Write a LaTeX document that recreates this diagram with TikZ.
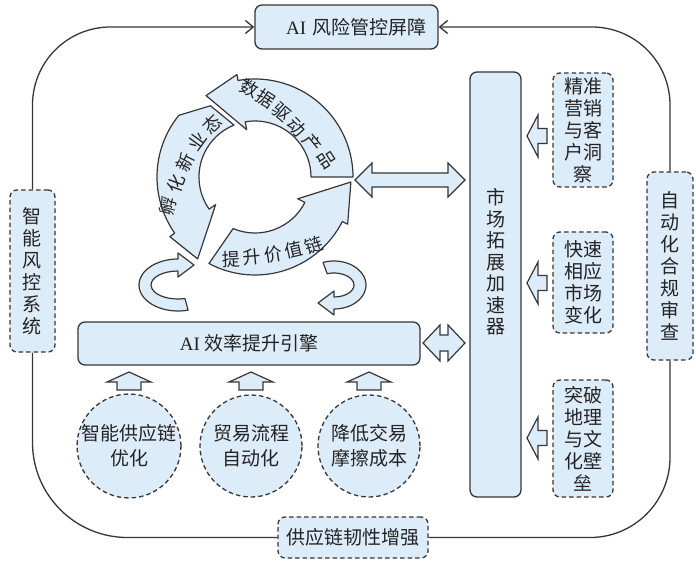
\documentclass[tikz,border=0pt]{standalone}
\usepackage{fontspec}
\setmainfont{Liberation Serif}
\newfontfamily\cjk{Noto Sans CJK SC}
\usetikzlibrary{calc,arrows.meta}
\definecolor{bfill}{RGB}{221,236,249}
\definecolor{bline}{RGB}{55,55,55}
\definecolor{tcol}{RGB}{35,35,35}
\tikzset{
 base/.style={draw=bline, fill=bfill, line width=1.3pt, text=tcol, font=\cjk\fontsize{19}{22}\selectfont, align=center, inner sep=0pt},
 solidbox/.style={base, rounded corners=7pt},
 dashbox/.style={base, rounded corners=7pt, dash pattern=on 4.5pt off 3pt},
 dashcirc/.style={base, circle, dash pattern=on 4.5pt off 3pt, minimum size=102pt, font=\cjk\fontsize{19}{25}\selectfont},
 loopline/.style={draw=bline, line width=1.3pt},
 looptip/.style={-{Straight Barb[length=8pt,width=13pt]}},
 blockarr/.style={draw=bline, fill=bfill, line width=1.2pt, line join=miter},
 cyc/.style={draw=bline, fill=bfill, line width=1.2pt, line join=round},
 cyctext/.style={text=tcol, font=\cjk\fontsize{18}{22}\selectfont, inner sep=0pt, align=center},
 pics/hdbl/.style n args={4}{code={\draw[blockarr] (-#1,0) -- (-#1+#2,-#3) -- (-#1+#2,-#4) -- (#1-#2,-#4) -- (#1-#2,-#3) -- (#1,0) -- (#1-#2,#3) -- (#1-#2,#4) -- (-#1+#2,#4) -- (-#1+#2,#3) -- cycle;}},
 pics/uparr/.style n args={4}{code={\draw[blockarr] (0,0) -- (#1,#2) -- (#3,#2) -- (#3,#4) -- (-#3,#4) -- (-#3,#2) -- (-#1,#2) -- cycle;}},
 pics/leftarr/.style n args={4}{code={\draw[blockarr] (0,0) -- (#2,-#1) -- (#2,-#3) -- (#4,-#3) -- (#4,#3) -- (#2,#3) -- (#2,#1) -- cycle;}},
}
\newcommand\cycarr[5]{\draw[cyc] ($(C)+(#1:98)$) arc[start angle=#1, end angle=#3, radius=98] -- ($(C)+(#3:104)$) -- ($(C)+(#4:#5)$) -- ($(C)+(#3:48)$) -- ($(C)+(#3:56)$) arc[start angle=#3, end angle=#2, radius=56] -- cycle;}
\newcommand\cch[5]{\node[cyctext, rotate=#4] (#1) at (#2,#3) {#5};}
\begin{document}
\begin{tikzpicture}[x=1pt,y=-1pt]
\useasboundingbox (0,0) rectangle (696,561);
\fill[white] (0,0) rectangle (696,561);

% outer loop nodes
\node[solidbox, minimum width=183pt, minimum height=44pt, text width=160pt, align=right] (risk) at (346.5,27) {{\rmfamily AI} 风险管控屏障};
\node[dashbox, minimum width=45pt, minimum height=162pt] (zn) at (32.5,271) {智\\能\\风\\控\\系\\统};
\node[dashbox, minimum width=46pt, minimum height=188pt] (zd) at (670,266) {自\\动\\化\\合\\规\\审\\查};
\node[dashbox, minimum width=150pt, minimum height=41pt] (gy) at (353,537.5) {供应链韧性增强};

\draw[loopline, looptip, rounded corners=78pt] (zn.north) |- (risk.west);
\draw[loopline, looptip, rounded corners=78pt] (zd.north) |- (risk.east);
\draw[loopline, rounded corners=95pt] (zn.south) |- (gy.west);
\draw[loopline, rounded corners=80pt] (gy.east) -| (zd.south);

% market accelerator
\node[solidbox, minimum width=51pt, minimum height=425pt] (mkt) at (495.5,284.5) {};
\node[cyctext, font=\cjk\fontsize{19}{21.5}\selectfont] (mktt) at (495.5,262) {市\\场\\拓\\展\\加\\速\\器};

% efficiency engine
\node[solidbox, minimum width=342pt, minimum height=43pt] (eng) at (249,343.5) {{\rmfamily AI} 效率提升引擎};

% right dashed boxes
\node[dashbox, minimum width=60pt, minimum height=114pt] (r1) at (583,130) {精准\\营销\\与客\\户洞\\察};
\node[dashbox, minimum width=60pt, minimum height=101pt] (r2) at (583,282.5) {快速\\相应\\市场\\变化};
\node[dashbox, minimum width=60pt, minimum height=117pt] (r3) at (583,438.5) {突破\\地理\\与文\\化壁\\垒};

% circles
\node[dashcirc] (c1) at (129,446) {智能供应链\\优化};
\node[dashcirc] (c2) at (251,446) {贸易流程\\自动化};
\node[dashcirc] (c3) at (369,446) {降低交易\\摩擦成本};

% block arrows
\pic at (410,180) {hdbl={55}{17}{17}{7}};
\pic at (444,343) {hdbl={21}{17}{18}{8}};
\pic at (129,372) {uparr={22}{10}{12}{18}};
\pic at (251,372) {uparr={22}{10}{12}{18}};
\pic at (369,372) {uparr={22}{10}{12}{18}};
\pic at (527,136) {leftarr={21}{11}{7.5}{20}};
\pic at (527,283) {leftarr={21}{11}{7.5}{20}};
\pic at (527,438) {leftarr={21}{11}{7.5}{20}};

% cycle
\coordinate (C) at (255,177);
\cycarr{0}{0}{-100}{-121}{95}
\draw[cyc] ($(C)+(-141:98)$) arc[start angle=-141, end angle=-215, radius=98] -- ($(C)+(-215:104)$) -- ($(C)+(-235:100)$) -- ($(C)+(-215:48)$) -- ($(C)+(-215:56)$) arc[start angle=-215, end angle=-112, radius=56] -- ($(C)+(-122:84)$) -- cycle;
\cycarr{118}{113}{27}{3}{96}

\cch{a1}{250}{88}{-26}{数}
\cch{a2}{266}{99}{-33}{据}
\cch{a3}{282}{112}{-40}{驱}
\cch{a4}{297}{127}{-45}{动}
\cch{a5}{312}{143}{-51}{产}
\cch{a6}{327}{160}{-57}{品}
\cch{b1}{168}{206}{76}{孵}
\cch{b2}{176}{184}{70}{化}
\cch{b3}{185}{162}{64}{新}
\cch{b4}{197}{141}{54}{业}
\cch{b5}{212}{124}{44}{态}
\cch{c1t}{231}{259}{2}{提}
\cch{c2t}{252}{257}{5}{升}
\cch{c3t}{273}{254}{9}{价}
\cch{c4t}{294}{250}{13}{值}
\cch{c5t}{314}{245}{18}{链}

% small curved arrows
\draw[cyc] (178,285) ++(75:39 and 26) arc[start angle=75, end angle=270, x radius=39, y radius=26] -- (178,253) -- (194,265) -- (178,277) -- (178,271) arc[start angle=270, end angle=75, x radius=27, y radius=14] -- cycle;
\draw[cyc] (334,285) ++(250:32 and 24) arc[start angle=250, end angle=450, x radius=32, y radius=24] -- (334,315) -- (318,303) -- (334,291) -- (334,297) arc[start angle=450, end angle=250, x radius=20, y radius=12] -- cycle;
\end{tikzpicture}
\end{document}
